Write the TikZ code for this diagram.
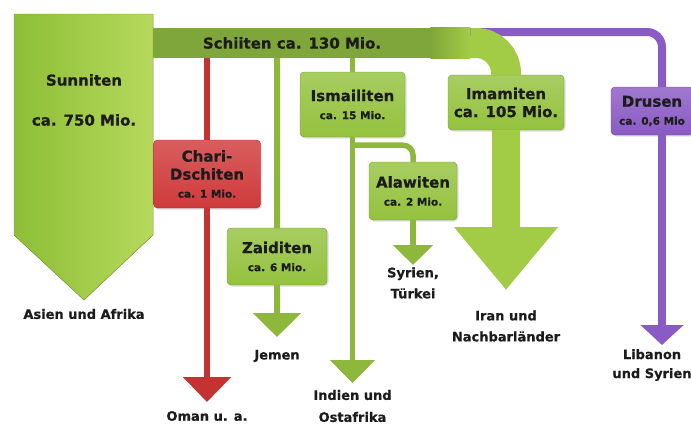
\documentclass[tikz,border=0pt]{standalone}
\usepackage{fontspec}
\setmainfont{DejaVu Sans}[BoldFeatures={FakeBold=0.6}]
\usetikzlibrary{arrows.meta,positioning,calc,shadows}
\definecolor{SunGreen}{HTML}{8DBE36}
\definecolor{SunLight}{HTML}{B6D95C}
\definecolor{BarGreen}{HTML}{7FA63A}
\definecolor{ArcGreen}{HTML}{A2CC45}
\definecolor{BoxGreen}{HTML}{94C23E}
\definecolor{LineGreen}{HTML}{8DB83C}
\definecolor{ChariRed}{HTML}{D03A3B}
\definecolor{LineRed}{HTML}{C43232}
\definecolor{DruPurple}{HTML}{8A5BC4}
\definecolor{TextDark}{HTML}{1C1C1C}
\newcommand{\hdfs}{\fontsize{15}{18}\selectfont\bfseries}
\newcommand{\smfs}{\fontsize{10.5}{12}\selectfont\bfseries}
\newcommand{\dsfs}{\fontsize{13}{21}\selectfont\bfseries}
\tikzset{
  sectbox/.style={rounded corners=4pt,align=center,inner sep=0pt,font=\hdfs,text=TextDark,draw=#1!80!black,line width=0.4pt,top color=#1!82!white,bottom color=#1,drop shadow={opacity=0.25,shadow xshift=1.5pt,shadow yshift=-1.5pt}},
  greenbox/.style={sectbox=BoxGreen},
  redbox/.style={sectbox=ChariRed},
  purplebox/.style={sectbox=DruPurple},
  dest/.style={font=\dsfs,align=center,text=TextDark},
  branch/.style={line width=5.5pt,draw=LineGreen},
  redline/.style={line width=6pt,draw=LineRed},
  druline/.style={line width=8pt,draw=DruPurple}
}

\begin{document}
\begin{tikzpicture}[x=1pt,y=-1pt]
\useasboundingbox (0,0) rectangle (691,424);

% Sunniten
\fill[left color=SunGreen,right color=SunLight,draw=SunGreen!85!black,line width=0.4pt] (14,14) -- (153,14) -- (153,235) -- (84,300) -- (14,235) -- cycle;
\node[font=\hdfs,align=center,text=TextDark] (sunni) at (84,100) {Sunniten\\[22pt]ca. 750 Mio.};
\node[dest] (asien) at (84,314) {Asien und Afrika};

% Schiiten
\node[fill=BarGreen,minimum width=317pt,minimum height=30pt,inner sep=0pt,anchor=west] (schiiten) at (153,43) {};
\shade[left color=BarGreen,right color=ArcGreen] ([xshift=-40pt]schiiten.north east) rectangle (schiiten.south east);
\node[font=\hdfs,text=TextDark] (schiitenlbl) at (292,43) {Schiiten ca. 130 Mio.};

% Drusen
\coordinate (druStart) at (470,32);
\coordinate (druLine) at (662,0);
\coordinate (druTip) at (662,345);
\node[purplebox,minimum width=82pt,minimum height=48pt] (drusen) at (652,111) {Drusen\\{\smfs ca. 0,6 Mio}};
\draw[druline,rounded corners=15pt] (druStart) -- (druStart -| druLine) -- (drusen.north -| druLine);
\draw[druline,-{Triangle[length=20pt,width=42pt]}] (drusen.south -| druLine) -- (druTip);
\node[dest,font=\fontsize{13}{19}\selectfont\bfseries] (libanon) at (652,365) {Libanon\\und Syrien};

% Imamiten
\coordinate (imamTip) at (506,290);
\node[greenbox,minimum width=116pt,minimum height=55pt] (imam) at (506,102.5) {Imamiten\\ca. 105 Mio.};
\draw[line width=30pt,draw=ArcGreen,rounded corners=30pt] (schiiten.east) -- (schiiten.east -| imam) -- (imam.north);
\draw[line width=28pt,draw=ArcGreen,-{Triangle[length=63pt,width=100pt]}] (imam.south) -- (imamTip);
\node[dest] (iran) at (506,326) {Iran und\\Nachbarländer};

% Chari-Dschiten
\coordinate (chariTip) at (206,402);
\node[redbox,minimum width=107pt,minimum height=68pt] (chari) at (207,174) {Chari-\\Dschiten\\{\smfs ca. 1 Mio.}};
\draw[redline] (schiiten.south -| chari) -- (chari.north);
\draw[redline,-{Triangle[length=25pt,width=47pt]}] (chari.south) -- (chariTip -| chari);
\node[dest] (oman) at (207,416) {Oman u. a.};

% Zaiditen
\coordinate (zaidTip) at (277,337);
\node[greenbox,minimum width=100pt,minimum height=57pt] (zaid) at (277,256.5) {Zaiditen\\{\smfs ca. 6 Mio.}};
\draw[branch] (schiiten.south -| zaid) -- (zaid.north);
\draw[branch,-{Triangle[length=24pt,width=47pt]}] (zaid.south) -- (zaidTip);
\node[dest] (jemen) at (277,356) {Jemen};

% Ismailiten
\coordinate (ismailTip) at (352.5,383);
\node[greenbox,minimum width=105pt,minimum height=65pt] (ismail) at (352.5,104.5) {Ismailiten\\{\smfs ca. 15 Mio.}};
\draw[branch] (schiiten.south -| ismail) -- (ismail.north);
\draw[branch,-{Triangle[length=23pt,width=44pt]}] (ismail.south) -- (ismailTip);
\node[dest,font=\fontsize{13}{22}\selectfont\bfseries] (indien) at (352.5,406) {Indien und\\Ostafrika};

% Alawiten
\coordinate (alaFork) at ($(ismail.south)+(0,8)$);
\coordinate (alawTip) at (413,265);
\node[greenbox,minimum width=88pt,minimum height=58pt] (alaw) at (413,191) {Alawiten\\{\smfs ca. 2 Mio.}};
\draw[branch,rounded corners=10pt] (alaFork) -- (alaFork -| alaw) -- (alaw.north);
\draw[branch,-{Triangle[length=20pt,width=39pt]}] (alaw.south) -- (alawTip);
\node[dest] (syrien) at (413,283) {Syrien,\\Türkei};
\end{tikzpicture}
\end{document}
